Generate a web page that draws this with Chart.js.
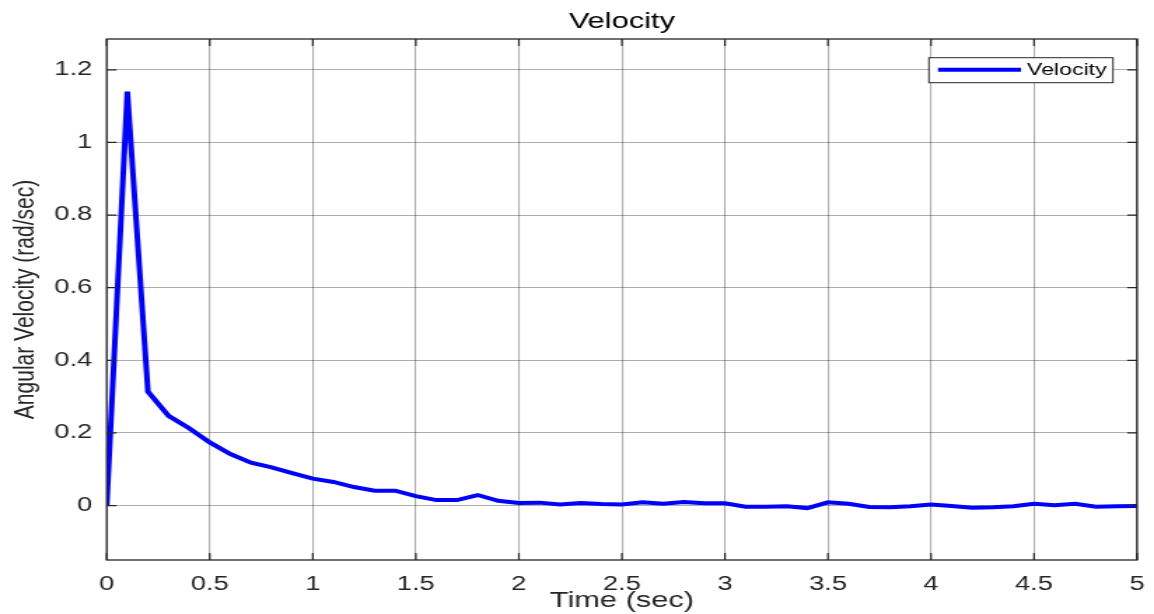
<!DOCTYPE html>
<html>
<head>
<meta charset="utf-8">
<script src="https://cdn.jsdelivr.net/npm/chart.js@4.4.1/dist/chart.umd.min.js"></script>
<style>
  html, body { margin: 0; padding: 0; background: #fff; overflow: hidden; }
  #wrap { width: 824px; height: 614px; transform-origin: 0 0; transform: scaleX(1.40048543); }
  canvas { display: block; }
</style>
</head>
<body>
<div id="wrap"><canvas id="c" width="824" height="614" style="width:824px;height:614px"></canvas></div>
<script>
// ---- data ----
const chartTitle = 'Velocity';
const seriesLabel = 'Velocity';
const xAxisLabel = 'Time (sec)';
const yAxisLabel = 'Angular Velocity (rad/sec)';
const timeValues = [0.0,0.1,0.2,0.3,0.4,0.5,0.6,0.7,0.8,0.9,1.0,1.1,1.2,1.3,1.4,1.5,1.6,1.7,1.8,1.9,
                    2.0,2.1,2.2,2.3,2.4,2.5,2.6,2.7,2.8,2.9,3.0,3.1,3.2,3.3,3.4,3.5,3.6,3.7,3.8,3.9,
                    4.0,4.1,4.2,4.3,4.4,4.5,4.6,4.7,4.8,4.9,5.0];
const velocityValues = [0, 1.14, 0.314, 0.247, 0.213, 0.174, 0.142, 0.118, 0.105, 0.089,
                        0.074, 0.065, 0.051, 0.041, 0.041, 0.026, 0.015, 0.015, 0.029, 0.013,
                        0.007, 0.008, 0.003, 0.007, 0.004, 0.003, 0.009, 0.005, 0.010, 0.006,
                        0.006, -0.003, -0.003, -0.002, -0.007, 0.009, 0.005, -0.004, -0.005, -0.002,
                        0.003, -0.001, -0.006, -0.005, -0.002, 0.005, 0.001, 0.005, -0.003, -0.002,
                        -0.001];
const xTickValues = [0, 0.5, 1, 1.5, 2, 2.5, 3, 3.5, 4, 4.5, 5];
const yTickValues = [0, 0.2, 0.4, 0.6, 0.8, 1, 1.2];
const xRange = [0, 5];
const yRange = [-0.15, 1.285];

// ---- styles ----
const FONT = '"Liberation Sans", Arial, Helvetica, sans-serif';
const TEXT = '#262626';
const GRID = 'rgba(0,0,0,0.32)';
const AXIS = '#262626';
const LINE = '#0000ff';

const points = timeValues.map((t, i) => ({ x: t, y: velocityValues[i] }));
const fmt = v => String(Number(v.toFixed(3)));

const matlabBox = {
  id: 'matlabBox',
  afterDatasetsDraw(chart) {
    const { ctx, chartArea: a, scales } = chart;
    ctx.save();
    // inward ticks
    ctx.strokeStyle = AXIS;
    ctx.lineWidth = 1.2;
    ctx.beginPath();
    const tl = 7;
    xTickValues.forEach(v => {
      const px = scales.x.getPixelForValue(v);
      ctx.moveTo(px, a.top); ctx.lineTo(px, a.top + tl);
      ctx.moveTo(px, a.bottom); ctx.lineTo(px, a.bottom - tl);
    });
    yTickValues.forEach(v => {
      const py = scales.y.getPixelForValue(v);
      ctx.moveTo(a.left, py); ctx.lineTo(a.left + tl, py);
      ctx.moveTo(a.right, py); ctx.lineTo(a.right - tl, py);
    });
    ctx.stroke();
    // box
    ctx.lineWidth = 1.3;
    ctx.strokeRect(a.left, a.top, a.right - a.left, a.bottom - a.top);
    // legend
    const w = 131.4, h = 25;
    const lx = a.right - 17.2 - w, ly = a.top + 18.7;
    ctx.fillStyle = '#fff';
    ctx.fillRect(lx, ly, w, h);
    ctx.lineWidth = 1;
    ctx.strokeStyle = '#262626';
    ctx.strokeRect(lx, ly, w, h);
    const ds = chart.data.datasets[0];
    ctx.strokeStyle = ds.borderColor;
    ctx.lineWidth = ds.borderWidth;
    ctx.beginPath();
    ctx.moveTo(lx + 6.5, ly + h / 2 - 0.5);
    ctx.lineTo(lx + 65.7, ly + h / 2 - 0.5);
    ctx.stroke();
    ctx.fillStyle = '#000';
    ctx.font = '16.5px ' + FONT;
    ctx.textBaseline = 'middle';
    ctx.textAlign = 'left';
    ctx.fillText(ds.label, lx + 70, ly + h / 2 + 0.5);
    ctx.restore();
  }
};

new Chart(document.getElementById('c'), {
  type: 'line',
  data: {
    datasets: [{
      label: seriesLabel,
      data: points,
      borderColor: LINE,
      backgroundColor: LINE,
      borderWidth: 4,
      pointRadius: 0,
      tension: 0,
      fill: false
    }]
  },
  options: {
    responsive: false,
    animation: false,
    devicePixelRatio: 1,
    layout: { padding: { left: 0, right: 12.1, top: 0, bottom: 0 } },
    plugins: {
      legend: { display: false },
      tooltip: { enabled: false },
      title: {
        display: true,
        text: chartTitle,
        fullSize: false,
        color: '#000',
        font: { family: FONT, size: 22, weight: 'normal' },
        padding: { top: 9, bottom: 3.6 }
      }
    },
    scales: {
      x: {
        type: 'linear',
        min: xRange[0], max: xRange[1],
        afterBuildTicks: s => { s.ticks = xTickValues.map(v => ({ value: v })); },
        afterFit: s => { s.height = 54; s.paddingLeft = 0; s.paddingRight = 0; },
        grid: { color: GRID, lineWidth: 1.1, drawTicks: false },
        border: { display: false },
        ticks: { color: TEXT, font: { family: FONT, size: 19.5 }, padding: 13, maxRotation: 0, autoSkip: false, callback: fmt },
        title: { display: true, text: xAxisLabel, color: TEXT, font: { family: FONT, size: 22 }, padding: { top: 0, bottom: 0 } }
      },
      y: {
        type: 'linear',
        min: yRange[0], max: yRange[1],
        afterBuildTicks: s => { s.ticks = yTickValues.map(v => ({ value: v })); },
        afterFit: s => { s.width = 76.2; s.paddingTop = 0; s.paddingBottom = 0; },
        grid: { color: GRID, lineWidth: 1.1, drawTicks: false },
        border: { display: false },
        ticks: { color: TEXT, font: { family: FONT, size: 19.5 }, padding: 10.3, autoSkip: false, callback: fmt },
        title: { display: true, text: yAxisLabel, color: TEXT, font: { family: FONT, size: 21 }, padding: { top: 5.2, bottom: 0 } }
      }
    }
  },
  plugins: [matlabBox]
});
</script>
</body>
</html>
